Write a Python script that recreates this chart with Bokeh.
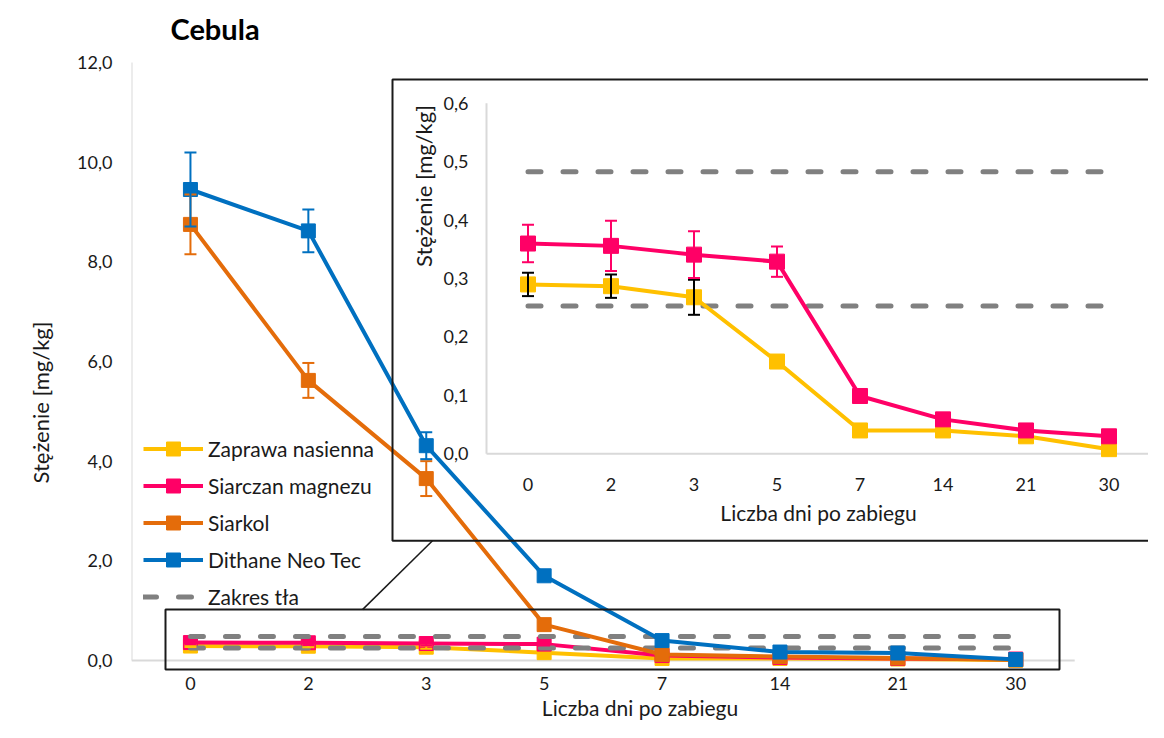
import math
from bokeh.plotting import figure
from bokeh.models import (Range1d, FixedTicker, Legend, LegendItem, Whisker,
                          ColumnDataSource, TeeHead, Title)
from bokeh.core.properties import value
from bokeh.embed import file_html
from bokeh.resources import INLINE

# ---------------- data ----------------
days = ["0", "2", "3", "5", "7", "14", "21", "30"]
zaprawa = [0.290, 0.287, 0.268, 0.158, 0.040, 0.040, 0.030, 0.008]
zaprawa_err = [0.020, 0.020, 0.030, 0.0, 0.0, 0.0, 0.0, 0.0]
siarczan = [0.360, 0.356, 0.341, 0.329, 0.099, 0.059, 0.040, 0.030]
siarczan_err = [0.032, 0.043, 0.040, 0.026, 0.0, 0.0, 0.0, 0.0]
siarkol = [8.75, 5.62, 3.65, 0.72, 0.12, 0.08, 0.05, 0.01]
siarkol_err = [0.60, 0.35, 0.35, 0.0, 0.0, 0.0, 0.0, 0.0]
dithane = [9.45, 8.62, 4.31, 1.70, 0.40, 0.17, 0.15, 0.02]
dithane_err = [0.74, 0.43, 0.27, 0.0, 0.0, 0.0, 0.0, 0.0]
tlo_low = 0.253
tlo_high = 0.483
main_yticks = [0, 2, 4, 6, 8, 10, 12]
inset_yticks = [0.0, 0.1, 0.2, 0.3, 0.4, 0.5, 0.6]

series_names = ["Zaprawa nasienna", "Siarczan magnezu", "Siarkol", "Dithane Neo Tec"]
bg_name = "Zakres tła"
title_text = "Cebula"
xlabel = "Liczba dni po zabiegu"
ylabel = "Stężenie  [mg/kg]"

C_YEL = "#FFC000"
C_PINK = "#FF0066"
C_ORG = "#E46C0A"
C_BLUE = "#0070C0"
C_GRAY = "#808080"
C_AX = "#D9D9D9"
TXT = "#1a1a1a"
FONT = "Lato"
FS_TICK = "18px"
FS_LAB = "21px"
FS_YLAB = "22px"

# ---------------- layout (canvas pixels) ----------------
W, H = 1148, 722
PL, PR, PT, PB = 131, 1148, 0, 672      # main frame
CAT_W = 117.9
Y0 = 661
PPU = (Y0 - 62) / 12.0


def mx(px):
    return (px - PL) / CAT_W


def my(py):
    return (Y0 - py) / PPU


IL, ICW = 486, 83.0
IY0, IPPU = 454, 585.0


def ix(px):
    return (px - IL) / ICW


def iy(py):
    return (IY0 - py) / IPPU


xs = [i + 0.5 for i in range(len(days))]

p = figure(width=W, height=H, output_backend="svg", toolbar_location=None,
           title_location=None,
           x_range=Range1d(mx(PL), mx(PR)), y_range=Range1d(my(PB), my(PT)),
           min_border_left=PL, min_border_right=W - PR,
           min_border_top=PT, min_border_bottom=H - PB)
p.extra_x_ranges = {"ix": Range1d(ix(PL), ix(PR))}
p.extra_y_ranges = {"iy": Range1d(iy(PB), iy(PT))}
p.outline_line_color = None
p.xgrid.visible = False
p.ygrid.visible = False
p.background_fill_color = "white"
p.border_fill_color = "white"

# axes
xa = p.xaxis[0]
xa.ticker = FixedTicker(ticks=xs)
xa.major_label_overrides = {x: d for x, d in zip(xs, days)}
xa.axis_line_color = None
xa.major_tick_line_color = None
xa.minor_tick_line_color = None
xa.major_tick_out = 0
xa.minor_tick_out = 0
xa.major_tick_in = 0
xa.major_label_standoff = 5
xa.major_label_text_font = FONT
xa.major_label_text_font_size = FS_TICK
xa.major_label_text_color = TXT
xa.axis_label = xlabel
xa.axis_label_standoff = 2
xa.axis_label_text_font = FONT
xa.axis_label_text_font_size = FS_LAB
xa.axis_label_text_font_style = "normal"
xa.axis_label_text_color = TXT

ya = p.yaxis[0]
ya.ticker = FixedTicker(ticks=main_yticks)
ya.major_label_overrides = {t: f"{t:.1f}".replace(".", ",") for t in main_yticks}
ya.axis_line_color = None
ya.major_tick_line_color = None
ya.minor_tick_line_color = None
ya.major_tick_out = 0
ya.minor_tick_out = 0
ya.major_tick_in = 0
ya.major_label_standoff = 19
ya.major_label_text_font = FONT
ya.major_label_text_font_size = FS_TICK
ya.major_label_text_color = TXT

# y axis title, placed beside the y axis and shifted along it like the original
ytitle = Title(text=ylabel, align="left", offset=188, standoff=42,
               text_font=FONT, text_font_size=FS_YLAB, text_font_style="normal",
               text_color=TXT)
p.add_layout(ytitle, "left")

# chart title
p.text(x=[mx(170)], y=[my(28)], text=[title_text], text_font=value(FONT),
       text_font_size="29px", text_font_style="bold", text_color="black",
       text_align="left", text_baseline="middle")

# main axis lines
p.segment(x0=[0, 0], y0=[0, 0], x1=[0, len(days)], y1=[main_yticks[-1], 0],
          line_color=C_AX, line_width=2)


def add_series(vals, errs, color, err_color, xr=None, yr=None,
               lw=4, size=14):
    kw = {}
    if xr is not None:
        kw = dict(x_range_name=xr, y_range_name=yr)
    src = ColumnDataSource(dict(x=xs, y=vals))
    ln = p.line("x", "y", source=src, line_color=color, line_width=lw,
                line_join="round", **kw)
    sc = p.scatter("x", "y", source=src, marker="square", size=size,
                   fill_color=color, line_color=color, **kw)
    ex = [x for x, e in zip(xs, errs) if e > 0]
    up = [v + e for v, e in zip(vals, errs) if e > 0]
    lo = [v - e for v, e in zip(vals, errs) if e > 0]
    if ex:
        esrc = ColumnDataSource(dict(x=ex, upper=up, lower=lo))
        wk = Whisker(base="x", upper="upper", lower="lower", source=esrc,
                     line_color=err_color, line_width=2, level="overlay",
                     upper_head=TeeHead(size=12, line_color=err_color, line_width=2),
                     lower_head=TeeHead(size=12, line_color=err_color, line_width=2))
        if xr is not None:
            wk.x_range_name = xr
            wk.y_range_name = yr
        p.add_layout(wk)
    return ln, sc


DASH = "13 22"

# ---------------- main chart ----------------
r_yel = add_series(zaprawa, zaprawa_err, C_YEL, C_YEL)
r_pink = add_series(siarczan, siarczan_err, C_PINK, C_PINK)
bg1 = p.line([xs[0], xs[-1]], [tlo_low, tlo_low], line_color=C_GRAY, line_width=5,
             line_dash=DASH, line_cap="round")
p.line([xs[0], xs[-1]], [tlo_high, tlo_high], line_color=C_GRAY, line_width=5,
       line_dash=DASH, line_cap="round")
r_org = add_series(siarkol, siarkol_err, C_ORG, C_ORG)
r_blue = add_series(dithane, dithane_err, C_BLUE, C_BLUE)

# zoom rectangle + connector
p.quad(left=[mx(165)], right=[mx(1059)], top=[my(610)], bottom=[my(670)],
       fill_color=None, line_color="#1a1a1a", line_width=2)
p.line([mx(362), mx(432)], [my(610), my(541)], line_color="#1a1a1a", line_width=1.5)

# ---------------- inset ----------------
IR = dict(x_range_name="ix", y_range_name="iy")
p.quad(left=[mx(392)], right=[mx(1170)], top=[my(79)], bottom=[my(541)],
       fill_color=None, line_color="#1a1a1a", line_width=2)
p.segment(x0=[0, 0], y0=[0, 0], x1=[0, len(days)], y1=[inset_yticks[-1], 0],
          line_color=C_AX, line_width=2, **IR)
p.line([xs[0], xs[-1]], [tlo_low, tlo_low], line_color=C_GRAY, line_width=5,
       line_dash=DASH, line_cap="round", **IR)
p.line([xs[0], xs[-1]], [tlo_high, tlo_high], line_color=C_GRAY, line_width=5,
       line_dash=DASH, line_cap="round", **IR)
add_series(zaprawa, zaprawa_err, C_YEL, "black", "ix", "iy", lw=4, size=15)
add_series(siarczan, siarczan_err, C_PINK, C_PINK, "ix", "iy", lw=4, size=15)

tk = dict(text_font=value(FONT), text_color=TXT, **IR)
p.text(x=[ix(468)] * len(inset_yticks), y=inset_yticks,
       text=[f"{t:.1f}".replace(".", ",") for t in inset_yticks],
       text_align="right", text_baseline="middle", text_font_size=FS_TICK, **tk)
p.text(x=xs, y=[iy(485)] * len(days), text=days, text_align="center",
       text_baseline="middle", text_font_size=FS_TICK, **tk)
p.text(x=[len(days) / 2], y=[iy(513)], text=[xlabel], text_align="center",
       text_baseline="middle", text_font_size=FS_LAB, **tk)
p.text(x=[ix(423)], y=[iy(183)], text=[ylabel], angle=math.pi / 2,
       text_align="center", text_baseline="middle", text_font_size=FS_YLAB, **tk)

# ---------------- legend ----------------
legend = Legend(items=[
    LegendItem(label=series_names[0], renderers=list(r_yel)),
    LegendItem(label=series_names[1], renderers=list(r_pink)),
    LegendItem(label=series_names[2], renderers=list(r_org)),
    LegendItem(label=series_names[3], renderers=list(r_blue)),
    LegendItem(label=bg_name, renderers=[bg1]),
], location=(12, 57), background_fill_alpha=0, border_line_color=None,
    label_text_font=FONT, label_text_font_size=FS_LAB, label_text_color=TXT,
    glyph_width=60, glyph_height=35, label_height=20, label_standoff=5,
    spacing=2, padding=0, margin=0)
p.add_layout(legend)

open("out.html", "w").write(file_html(p, INLINE))
